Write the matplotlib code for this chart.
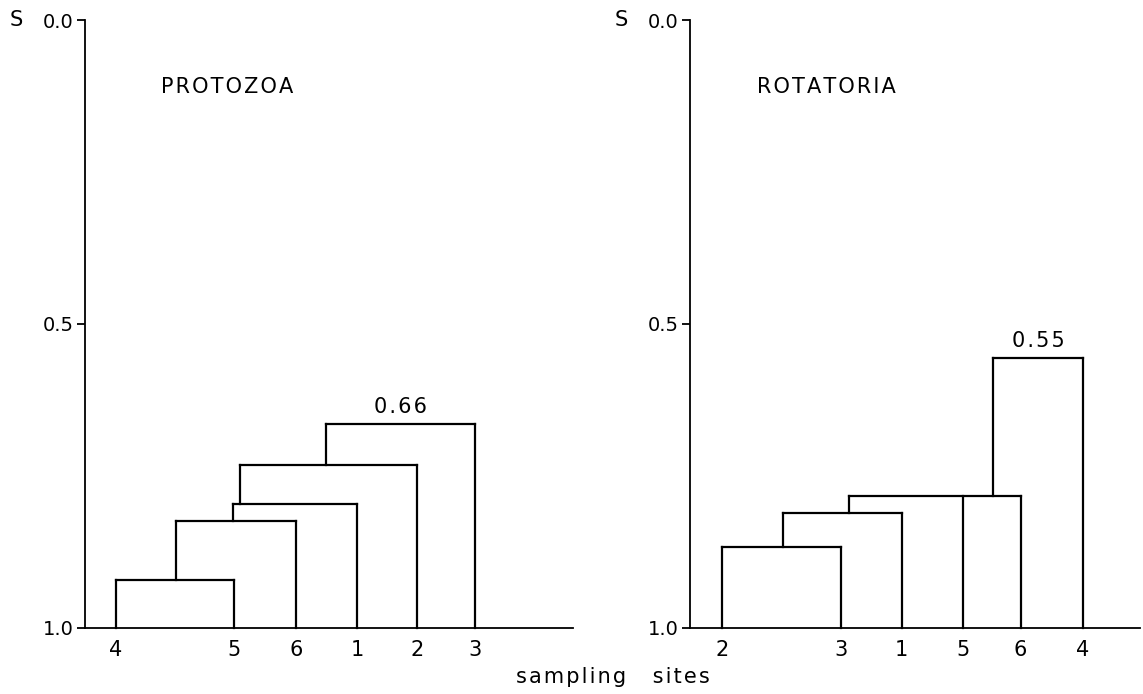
import matplotlib
matplotlib.use("Agg")
import matplotlib.pyplot as plt

# ---- data ----
prot_sites = ['4', '5', '6', '1', '2', '3']
prot_pos = [0.51, 2.48, 3.52, 4.53, 5.53, 6.5]
prot_S = [0.921, 0.824, 0.797, 0.732, 0.665]
prot_attach = [1.52, 2.46, 2.59, 4.02]
prot_join = [['4', '5'], ['c0', '6'], ['c1', '1'], ['c2', '2'], ['c3', '3']]
prot_label = '0.66'

rot_sites = ['2', '3', '1', '5', '6', '4']
rot_pos = [0.53, 2.51, 3.53, 4.55, 5.51, 6.55]
rot_S = [0.868, 0.811, 0.783, 0.557]
rot_attach = [1.545, 2.655, 5.055]
rot_join = [['2', '3'], ['c0', '1'], ['c1', '5', '6'], ['c2', '4']]
rot_label = '0.55'

y_ticks = [0.0, 0.5, 1.0]
y_ticklabels = ['0.0', '0.5', '1.0']

HS = '\u200a'  # hair space for letter spacing


def spaced(s):
    return HS.join(s)


FS = 15
LW = 1.6

W, H = 1143, 694
fig = plt.figure(figsize=(W / 100, H / 100), dpi=100)


def make_axes(x0, x1, y_top, y_bot):
    return fig.add_axes([x0 / W, 1 - y_bot / H, (x1 - x0) / W, (y_bot - y_top) / H])


def draw(ax, sites, pos, S, attach, join, label, title, title_x, xmax):
    ax.set_xlim(0, xmax)
    ax.set_ylim(1.0, 0.0)
    for s in ['top', 'right']:
        ax.spines[s].set_visible(False)
    for s in ['left', 'bottom']:
        ax.spines[s].set_linewidth(1.3)
    ax.set_yticks(y_ticks)
    ax.set_yticklabels(y_ticklabels, fontsize=FS - 1)
    ax.tick_params(axis='y', length=6, width=1.3, pad=2)
    ax.set_xticks(pos)
    ax.set_xticklabels(sites, fontsize=FS)
    ax.tick_params(axis='x', length=0, pad=9)
    leaf = dict(zip(sites, pos))
    for k, members in enumerate(join):
        h = S[k]
        xs = []
        for m in members:
            if m.startswith('c'):
                j = int(m[1:])
                x, b = attach[j], S[j]
            else:
                x, b = leaf[m], 1.0
            xs.append(x)
            ax.plot([x, x], [b, h], color='black', lw=LW, solid_capstyle='projecting', clip_on=False)
        ax.plot([min(xs), max(xs)], [h, h], color='black', lw=LW, solid_capstyle='projecting', clip_on=False)
        if k == len(join) - 1:
            ax.text((min(xs) + max(xs)) / 2, h - 0.012, spaced(label), ha='center', va='bottom', fontsize=FS)
    ax.text(title_x, 0.110, spaced(title), ha='left', va='center', fontsize=FS)
    ax.text(-1.14, 0.0, 'S', ha='center', va='center', fontsize=FS, clip_on=False)


axL = make_axes(85, 573, 20, 627.7)
draw(axL, prot_sites, prot_pos, prot_S, prot_attach, prot_join, prot_label, 'PROTOZOA', 1.27, 8.13)
axR = make_axes(690, 1140, 20, 627.7)
draw(axR, rot_sites, rot_pos, rot_S, rot_attach, rot_join, rot_label, 'ROTATORIA', 1.12, 7.5)

fig.text(613 / W, 1 - 677 / H, spaced('sampling') + '    ' + spaced('sites'), ha='center', va='center', fontsize=FS)

fig.savefig('out.png', dpi=100, facecolor='white')
